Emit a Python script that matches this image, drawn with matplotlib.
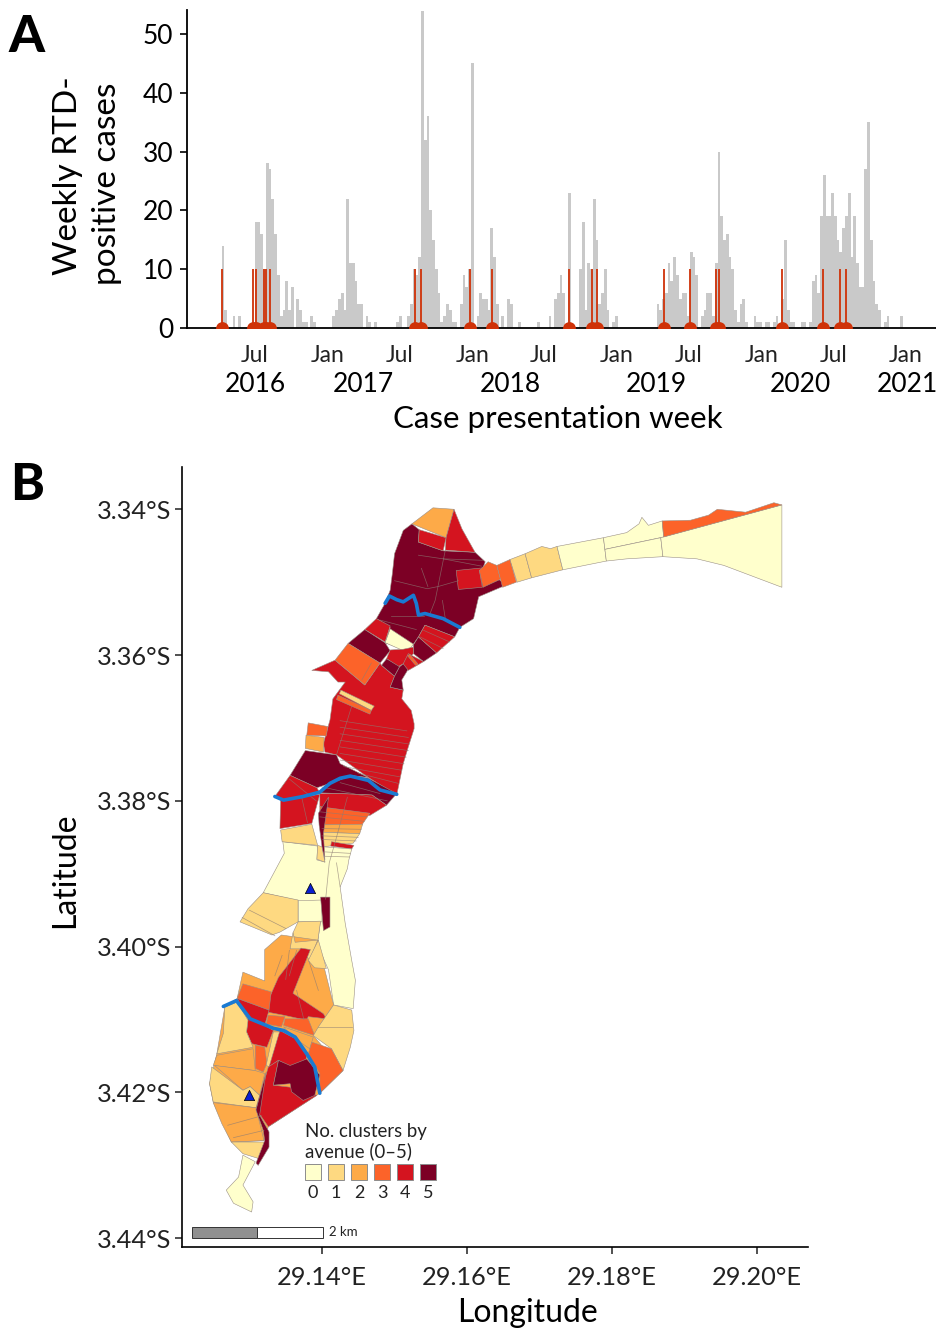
import pandas as pd
import matplotlib
matplotlib.use("Agg")
import matplotlib.pyplot as plt
import matplotlib.dates as mdates
from matplotlib.patches import Polygon, Rectangle

plt.rcParams['font.family'] = ['Lato', 'DejaVu Sans']

# Panel A: weekly cases, one value per week from the first week
first_week = "2016-01-11"
weekly_cases = [
    0, 0, 0, 0, 0, 0, 0, 0, 0, 0,
    0, 0, 0, 14, 3, 0, 0, 2, 0, 2,
    0, 0, 0, 0, 0, 18, 18, 16, 10, 28,
    27, 22, 16, 9, 2, 3, 8, 3, 7, 0,
    5, 3, 1, 1, 0, 2, 1, 0, 0, 0,
    0, 0, 0, 2, 3, 5, 6, 3, 22, 11,
    11, 8, 4, 4, 0, 2, 1, 0, 1, 0,
    0, 0, 0, 0, 0, 0, 1, 2, 0, 0,
    2, 4, 10, 9, 12, 54, 32, 36, 20, 15,
    10, 6, 1, 2, 4, 3, 1, 1, 0, 4,
    9, 7, 10, 45, 0, 2, 6, 5, 5, 3,
    17, 12, 4, 0, 2, 0, 5, 4, 0, 0,
    1, 0, 0, 0, 0, 0, 0, 1, 0, 0,
    0, 2, 0, 5, 6, 9, 6, 0, 23, 0,
    0, 0, 10, 18, 3, 11, 10, 22, 15, 4,
    6, 10, 3, 0, 1, 2, 0, 0, 0, 0,
    0, 0, 0, 0, 0, 0, 0, 0, 0, 0,
    4, 3, 5, 6, 11, 8, 12, 9, 5, 6,
    6, 2, 13, 12, 9, 0, 2, 3, 6, 6,
    2, 11, 30, 19, 15, 16, 12, 10, 3, 1,
    4, 5, 1, 0, 0, 2, 1, 1, 0, 1,
    1, 0, 1, 2, 0, 5, 15, 3, 1, 1,
    0, 0, 1, 1, 0, 1, 8, 9, 6, 19,
    26, 19, 19, 23, 19, 15, 13, 17, 19, 23,
    12, 19, 11, 7, 7, 27, 35, 15, 8, 4,
    3, 0, 1, 2, 0, 0, 0, 0, 2, 0,
]
cluster_dates = [
    "2016-04-09", "2016-06-25", "2016-07-03", "2016-07-23", "2016-07-28",
    "2016-08-08", "2017-08-10", "2017-08-24", "2017-12-27", "2018-02-19",
    "2018-09-01", "2018-10-30", "2018-11-13", "2019-04-30", "2019-07-04",
    "2019-09-09", "2019-09-15", "2020-02-23", "2020-06-05", "2020-07-19",
    "2020-08-03",
]
cluster_height = 10
month_ticks = ["2016-07-01", "2017-01-01", "2017-07-01", "2018-01-01", "2018-07-01",
               "2019-01-01", "2019-07-01", "2020-01-01", "2020-07-01", "2021-01-01"]
month_labels = ["Jul", "Jan", "Jul", "Jan", "Jul", "Jan", "Jul", "Jan", "Jul", "Jan"]
year_positions = ["2016-07-01", "2017-04-01", "2018-04-06", "2019-04-10", "2020-04-09", "2021-01-03"]
year_labels = ["2016", "2017", "2018", "2019", "2020", "2021"]

# Panel B: avenues as (cluster count, outline), vertices as (lon - 29, -lat - 3)
# in 1/10000 degree. Later entries are painted over earlier ones.
east_avenues = [
    (1, [(1659, 3469), (1680, 3461), (1689, 3494), (1669, 3500)]),
    (1, [(1680, 3461), (1703, 3451), (1715, 3454), (1724, 3451), (1732, 3483), (1689, 3494)]),
    (0, [(1724, 3451), (1788, 3439), (1792, 3471), (1732, 3483)]),
    (0, [(1788, 3439), (1820, 3432), (1837, 3420), (1841, 3411), (1850, 3422), (1869, 3416), (1871, 3438), (1790, 3455)]),
    (0, [(1790, 3455), (1867, 3439), (1870, 3465), (1820, 3468), (1792, 3471)]),
    (0, [(1867, 3439), (2034, 3394), (2034, 3507), (1954, 3477), (1917, 3468), (1870, 3465)]),
    (3, [(1869, 3416), (1908, 3415), (1933, 3408), (1945, 3400), (1984, 3404), (2023, 3391), (2034, 3394), (1871, 3438)]),
]
north_avenues = [
    (5, [(1524, 3420), (1534, 3428), (1533, 3445), (1567, 3457), (1611, 3459), (1625, 3472), (1622, 3480), (1649, 3500),
         (1649, 3506), (1616, 3520), (1609, 3550), (1590, 3562), (1583, 3575), (1542, 3559), (1533, 3575), (1526, 3585),
         (1512, 3592), (1487, 3583), (1494, 3562), (1475, 3550), (1487, 3529), (1494, 3511), (1497, 3488), (1500, 3461),
         (1512, 3429)]),
    (2, [(1524, 3420), (1553, 3398), (1582, 3400), (1571, 3439)]),
    (4, [(1582, 3400), (1593, 3427), (1611, 3459), (1570, 3456), (1571, 3439)]),
    (4, [(1534, 3428), (1571, 3439), (1567, 3457), (1533, 3445)]),
    (4, [(1475, 3550), (1494, 3560), (1487, 3582), (1459, 3565)]),
    (5, [(1459, 3565), (1487, 3583), (1494, 3594), (1480, 3611), (1436, 3584)]),
    (0, [(1494, 3564), (1526, 3585), (1521, 3592), (1510, 3593), (1487, 3583)]),
    (4, [(1585, 3484), (1625, 3480), (1617, 3484), (1621, 3507), (1588, 3510)]),
    (3, [(1617, 3484), (1629, 3472), (1641, 3477), (1646, 3496), (1622, 3507)]),
    (3, [(1641, 3477), (1659, 3469), (1668, 3500), (1649, 3507)]),
]
central_avenues = [
    (4, [(1418, 3607), (1386, 3621), (1409, 3623), (1422, 3637), (1432, 3637), (1415, 3660), (1411, 3689), (1402, 3721),
         (1404, 3733), (1420, 3737), (1464, 3768), (1503, 3792), (1512, 3749), (1519, 3726), (1527, 3701), (1527, 3694),
         (1523, 3676), (1510, 3660), (1512, 3648), (1494, 3644), (1500, 3629), (1482, 3614), (1480, 3611), (1459, 3641)]),
    (5, [(1533, 3575), (1558, 3597), (1540, 3609), (1526, 3598), (1526, 3586)]),
    (4, [(1542, 3559), (1583, 3575), (1558, 3597), (1533, 3575)]),
    (4, [(1494, 3593), (1512, 3592), (1526, 3589), (1526, 3598), (1512, 3612), (1505, 3616), (1489, 3605)]),
    (3, [(1436, 3584), (1480, 3611), (1459, 3641), (1418, 3607)]),
    (5, [(1489, 3605), (1507, 3616), (1500, 3629), (1482, 3614)]),
    (5, [(1512, 3612), (1521, 3616), (1510, 3634), (1512, 3648), (1494, 3644), (1500, 3629), (1507, 3616)]),
    (4, [(1519, 3598), (1540, 3609), (1519, 3621), (1512, 3612)]),
    (3, [(1521, 3599), (1533, 3613), (1529, 3614), (1518, 3601)]),
    (1, [(1426, 3648), (1472, 3670), (1468, 3676), (1424, 3653)]),
    (3, [(1422, 3655), (1468, 3676), (1466, 3681), (1420, 3661)]),
    (3, [(1381, 3693), (1408, 3698), (1406, 3711), (1379, 3710)]),
    (2, [(1378, 3710), (1403, 3713), (1402, 3733), (1377, 3728)]),
    (5, [(1377, 3731), (1420, 3737), (1425, 3749), (1464, 3768), (1439, 3765), (1411, 3776), (1393, 3782), (1356, 3765)]),
    (5, [(1411, 3776), (1439, 3766), (1464, 3769), (1503, 3790), (1489, 3806), (1469, 3792), (1425, 3790), (1397, 3789)]),
    (4, [(1356, 3765), (1393, 3782), (1397, 3789), (1347, 3799), (1335, 3794)]),
    (4, [(1343, 3799), (1397, 3791), (1386, 3831), (1342, 3838)]),
    (4, [(1397, 3790), (1425, 3790), (1469, 3792), (1489, 3806), (1466, 3820), (1397, 3808)]),
    (3, [(1397, 3808), (1466, 3817), (1455, 3833), (1397, 3833)]),
    (2, [(1397, 3833), (1456, 3832), (1452, 3845), (1400, 3843)]),
    (1, [(1400, 3843), (1452, 3845), (1443, 3858), (1402, 3863)]),
    (4, [(1413, 3856), (1444, 3861), (1441, 3866), (1412, 3862)]),
]
pale_avenues = [
    (0, [(1346, 3856), (1394, 3862), (1393, 3881), (1404, 3884), (1402, 3863), (1441, 3866), (1437, 3881), (1435, 3893),
         (1425, 3918), (1432, 3968), (1441, 4019), (1446, 4046), (1443, 4085), (1416, 4080), (1409, 4032), (1397, 4005),
         (1394, 3994), (1398, 3965), (1367, 3966), (1367, 3937), (1319, 3926), (1348, 3872)]),
    (1, [(1343, 3840), (1386, 3832), (1394, 3861), (1345, 3856)]),
    (1, [(1394, 3861), (1400, 3863), (1404, 3884), (1393, 3880)]),
    (5, [(1409, 3795), (1395, 3817), (1396, 3833), (1400, 3863), (1404, 3881), (1402, 3845)]),
    (0, [(1367, 3937), (1400, 3936), (1400, 3966), (1367, 3966)]),
    (1, [(1319, 3926), (1367, 3936), (1367, 3966), (1342, 3980), (1331, 3984), (1287, 3966), (1298, 3948)]),
    (5, [(1398, 3932), (1411, 3932), (1411, 3973), (1402, 3978)]),
    (1, [(1367, 3966), (1398, 3965), (1394, 3994), (1363, 3994), (1360, 3981)]),
]
south_avenues = [
    (2, [(1283, 4071), (1291, 4035), (1321, 4047), (1321, 4004), (1344, 3984), (1394, 3991), (1397, 4005), (1416, 4080),
         (1388, 4122), (1429, 4170), (1397, 4201), (1326, 4247), (1320, 4266), (1275, 4268), (1250, 4213), (1245, 4188),
         (1255, 4147), (1266, 4083)]),
    (1, [(1360, 3981), (1363, 3994), (1394, 3991), (1383, 4019), (1372, 4003), (1356, 4003)]),
    (1, [(1381, 4019), (1395, 3991), (1406, 4030), (1390, 4029)]),
    (4, [(1371, 4002), (1384, 4004), (1360, 4064), (1402, 4092), (1406, 4099), (1381, 4096), (1379, 4101), (1347, 4094),
         (1326, 4090), (1328, 4069), (1340, 4042)]),
    (3, [(1291, 4051), (1330, 4062), (1327, 4087), (1283, 4071)]),
    (4, [(1283, 4071), (1327, 4087), (1321, 4108), (1333, 4115), (1324, 4138), (1303, 4133), (1296, 4117), (1298, 4099)]),
    (3, [(1326, 4094), (1349, 4096), (1344, 4110), (1323, 4106)]),
    (3, [(1349, 4099), (1381, 4099), (1390, 4122), (1347, 4108)]),
    (2, [(1347, 4110), (1388, 4124), (1383, 4140), (1360, 4124)]),
    (1, [(1266, 4083), (1283, 4076), (1298, 4101), (1296, 4117), (1305, 4138), (1255, 4147), (1264, 4119)]),
    (2, [(1255, 4149), (1305, 4140), (1308, 4170), (1250, 4163)]),
    (3, [(1308, 4135), (1321, 4138), (1324, 4160), (1319, 4172), (1308, 4167)]),
    (1, [(1333, 4117), (1342, 4117), (1328, 4165), (1323, 4163)]),
    (2, [(1252, 4163), (1308, 4170), (1321, 4174), (1314, 4204), (1301, 4192), (1291, 4197)]),
    (1, [(1248, 4165), (1291, 4197), (1301, 4192), (1314, 4204), (1309, 4221), (1250, 4213), (1245, 4188)]),
    (2, [(1250, 4214), (1309, 4221), (1320, 4266), (1275, 4268), (1262, 4243)]),
    (1, [(1275, 4268), (1321, 4268), (1314, 4291), (1291, 4284)]),
    (0, [(1291, 4286), (1308, 4295), (1291, 4327), (1305, 4350), (1303, 4364), (1278, 4352), (1268, 4334), (1285, 4316)]),
    (1, [(1416, 4080), (1441, 4087), (1444, 4115), (1439, 4138), (1429, 4170), (1413, 4140), (1388, 4122), (1395, 4110)]),
    (4, [(1342, 4115), (1363, 4126), (1379, 4149), (1376, 4165), (1356, 4165), (1340, 4156), (1327, 4165)]),
    (4, [(1326, 4165), (1340, 4156), (1333, 4190), (1358, 4193), (1393, 4204), (1326, 4247), (1317, 4234), (1309, 4224)]),
    (3, [(1386, 4131), (1413, 4140), (1429, 4170), (1397, 4201), (1397, 4174), (1381, 4147)]),
    (5, [(1340, 4156), (1356, 4163), (1379, 4154), (1397, 4176), (1390, 4204), (1374, 4211), (1358, 4199), (1356, 4188),
         (1333, 4190)]),
    (5, [(1323, 4172), (1309, 4224), (1319, 4252), (1321, 4266), (1309, 4297), (1312, 4300), (1327, 4275), (1327, 4254),
         (1314, 4231)]),
]
street_lines = [
    [(1570, 3456), (1556, 3525), (1549, 3543)], [(1533, 3463), (1567, 3468), (1622, 3470)],
    [(1537, 3481), (1546, 3506)], [(1500, 3498), (1545, 3509), (1560, 3506), (1588, 3498)],
    [(1567, 3468), (1620, 3478)], [(1495, 3546), (1540, 3546)], [(1480, 3552), (1530, 3565)],
    [(1540, 3566), (1576, 3582)], [(1535, 3575), (1567, 3591)], [(1468, 3611), (1455, 3634)],
    [(1566, 3525), (1570, 3550)], [(1425, 3690), (1517, 3704)], [(1425, 3699), (1519, 3713)],
    [(1425, 3708), (1520, 3722)], [(1425, 3717), (1519, 3731)], [(1425, 3726), (1516, 3740)],
    [(1425, 3735), (1513, 3749)], [(1425, 3744), (1510, 3758)], [(1430, 3753), (1507, 3767)],
    [(1450, 3762), (1505, 3776)], [(1441, 3670), (1420, 3737)], [(1425, 3775), (1480, 3790)],
    [(1400, 3781), (1490, 3800)], [(1397, 3815), (1462, 3822)], [(1397, 3822), (1458, 3828)],
    [(1400, 3838), (1454, 3839)], [(1400, 3848), (1450, 3850)], [(1401, 3853), (1447, 3855)],
    [(1404, 3870), (1439, 3872)], [(1404, 3876), (1438, 3877)], [(1435, 3795), (1420, 3850), (1410, 3885), (1405, 3935)],
    [(1420, 3885), (1425, 3918)], [(1355, 3770), (1392, 3800)], [(1372, 3795), (1380, 3830)],
    [(1300, 3950), (1350, 3975)], [(1290, 3960), (1335, 3985)], [(1345, 4012), (1335, 4040)],
    [(1355, 4005), (1350, 4045)], [(1365, 4005), (1355, 4040)], [(1382, 4020), (1395, 4060)],
    [(1270, 4245), (1317, 4232)], [(1278, 4262), (1320, 4252)], [(1395, 4110), (1441, 4110)],
    [(1375, 4100), (1365, 4060)],
]
river_north = [(1487, 3529), (1493, 3519), (1503, 3524), (1512, 3527), (1526, 3518), (1530, 3529), (1533, 3545),
               (1542, 3543), (1567, 3550), (1590, 3562)]
river_middle = [(1335, 3794), (1347, 3799), (1374, 3794), (1397, 3788), (1411, 3776), (1425, 3769), (1439, 3766),
                (1464, 3772), (1480, 3785), (1503, 3791)]
river_south = [(1264, 4082), (1282, 4074), (1301, 4099), (1333, 4112), (1347, 4115), (1363, 4124), (1379, 4147),
               (1390, 4165), (1397, 4201)]
site_markers = [(1383, 3919), (1299, 4204)]

cluster_colors = ["#ffffcc", "#fed981", "#fdaa48", "#fc6329", "#d4141f", "#7c0025"]
lon_ticks = [29.14, 29.16, 29.18, 29.20]
lat_ticks = [-3.34, -3.36, -3.38, -3.40, -3.42, -3.44]
scale_start = 29.1221
scale_step = 0.009


def to_lonlat(points):
    return [(29 + a / 10000, -(3 + b / 10000)) for a, b in points]


fig = plt.figure(figsize=(9.37, 13.28), dpi=100)
W, H = 937, 1328

# Panel A
ax_a = fig.add_axes([187 / W, 1 - 328 / H, 750 / W, 318 / H])
week_dates = pd.date_range(first_week, periods=len(weekly_cases), freq="7D")
ax_a.bar(week_dates, weekly_cases, width=7, color="#c9c9c9", linewidth=0)
stems = pd.to_datetime(cluster_dates)
ax_a.vlines(stems, 0, cluster_height, color="#cf3208", linewidth=1.3, zorder=3)
ax_a.scatter(stems, [0] * len(stems), s=85, color="#cf3208", linewidth=0, zorder=4)
ax_a.set_xlim(pd.Timestamp("2016-01-11"), pd.Timestamp("2021-03-20"))
ax_a.set_ylim(0, 54.1)
ax_a.set_yticks(range(0, 51, 10))
ax_a.tick_params(axis="y", labelsize=19, length=5, width=1.2, pad=5)
ax_a.set_xticks(pd.to_datetime(month_ticks))
ax_a.set_xticklabels(month_labels, fontsize=16.5, color="#222222")
ax_a.tick_params(axis="x", length=0, pad=12.5)
for side in ["top", "right"]:
    ax_a.spines[side].set_visible(False)
for side in ["left", "bottom"]:
    ax_a.spines[side].set_linewidth(1.3)
for pos, label in zip(year_positions, year_labels):
    ax_a.annotate(label, (mdates.date2num(pd.Timestamp(pos)), 0), xycoords=ax_a.get_xaxis_transform(),
                  xytext=(0, -57), textcoords="offset pixels", ha="center", va="center", fontsize=19,
                  annotation_clip=False)
fig.text(558 / W, 1 - 419 / H, "Case presentation week", ha="center", va="center", fontsize=22.5)
fig.text(68 / W, 1 - 176 / H, "Weekly RTD-", rotation=90, ha="center", va="center", fontsize=24)
fig.text(107 / W, 1 - 184 / H, "positive cases", rotation=90, ha="center", va="center", fontsize=24)
fig.text(27 / W, 1 - 37 / H, "A", ha="center", va="center", fontsize=37, fontweight="black")
fig.text(27 / W, 1 - 486 / H, "B", ha="center", va="center", fontsize=37, fontweight="black")

# Panel B
ax_b = fig.add_axes([182 / W, 1 - 1247 / H, 626 / W, 780 / H])
for group in [east_avenues, north_avenues, central_avenues, pale_avenues, south_avenues]:
    for cluster, outline in group:
        ax_b.add_patch(Polygon(to_lonlat(outline), closed=True, facecolor=cluster_colors[cluster],
                               edgecolor="#9a8f86", linewidth=0.4, joinstyle="round"))
for line in street_lines:
    pts = to_lonlat(line)
    ax_b.plot([p[0] for p in pts], [p[1] for p in pts], color="#8c7c74", linewidth=0.5, alpha=0.7)
for river in [river_north, river_middle, river_south]:
    pts = to_lonlat(river)
    ax_b.plot([p[0] for p in pts], [p[1] for p in pts], color="#1a7ad2", linewidth=2.6,
              solid_capstyle="round", solid_joinstyle="round")
sites = to_lonlat(site_markers)
ax_b.scatter([p[0] for p in sites], [p[1] for p in sites], marker="^", s=55, color="#0a1fd0",
             edgecolor="#000000", linewidth=0.5, zorder=5)
ax_b.set_xlim(29.1207, 29.2070)
ax_b.set_ylim(-3.4412, -3.3342)
ax_b.set_xticks(lon_ticks)
ax_b.set_xticklabels(["%.2f°E" % v for v in lon_ticks])
ax_b.set_yticks(lat_ticks)
ax_b.set_yticklabels(["%.2f°S" % abs(v) for v in lat_ticks])
ax_b.tick_params(labelsize=18.3, length=5, width=1.1, pad=2.5, colors="#222222")
ax_b.tick_params(axis="x", pad=9)
for side in ["top", "right"]:
    ax_b.spines[side].set_visible(False)
for side in ["left", "bottom"]:
    ax_b.spines[side].set_linewidth(1.2)
fig.text(65 / W, 1 - 870 / H, "Latitude", rotation=90, ha="center", va="center", fontsize=23)
fig.text(528 / W, 1 - 1313 / H, "Longitude", ha="center", va="center", fontsize=23)

# scale bar, 2 km split in two
ax_b.add_patch(Rectangle((scale_start, -3.4399), scale_step, 0.0015, facecolor="#909090", edgecolor="#333333", linewidth=0.7))
ax_b.add_patch(Rectangle((scale_start + scale_step, -3.4399), scale_step, 0.0015, facecolor="white", edgecolor="#333333", linewidth=0.7))
fig.text(329 / W, 1 - 1232 / H, "2 km", ha="left", va="center", fontsize=9.5, color="#222222")

# legend
fig.text(305 / W, 1 - 1131 / H, "No. clusters by", ha="left", va="center", fontsize=13.4, color="#222222")
fig.text(305 / W, 1 - 1151 / H, "avenue (0–5)", ha="left", va="center", fontsize=13.4, color="#222222")
for i, color in enumerate(cluster_colors):
    left = 305 + i * 23
    fig.add_artist(Rectangle((left / W, 1 - 1180 / H), 16 / W, 16 / H, transform=fig.transFigure,
                             facecolor=color, edgecolor="#8c8c8c", linewidth=0.7))
    fig.text((left + 8) / W, 1 - 1193 / H, str(i), ha="center", va="center", fontsize=13, color="#222222")

fig.savefig("out.png", dpi=100)
